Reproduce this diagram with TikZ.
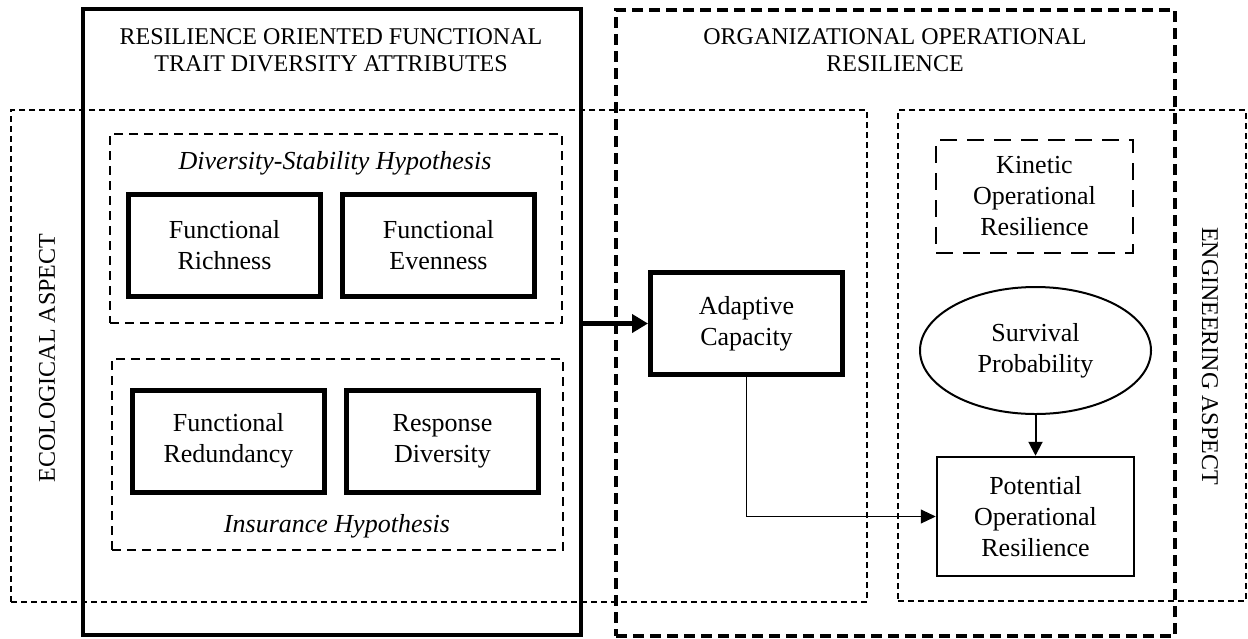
\documentclass[tikz,border=0pt]{standalone}
\usepackage{fontspec}
\setmainfont{Liberation Serif}
\usepackage{tikz}
\usetikzlibrary{arrows.meta,shapes.geometric}
\newcommand{\bodysize}{\fontsize{26}{31}\selectfont}
\newcommand{\capsize}{\fontsize{24}{27}\selectfont}

\begin{document}
\begin{tikzpicture}[x=1pt,y=-1pt,
	aspectbox/.style={draw, line width=2pt, dash pattern=on 6pt off 4pt, inner sep=0pt},
	orgbox/.style={draw, line width=3.5pt, dash pattern=on 11pt off 6pt, inner sep=0pt},
	traitbox/.style={draw, line width=4.5pt, inner sep=0pt},
	hypbox/.style={draw, line width=2pt, dash pattern=on 9pt off 6pt, inner sep=0pt},
	attr/.style={draw, line width=5pt, minimum width=192pt, minimum height=102pt, align=center, font=\bodysize},
	resbox/.style={draw, line width=2.5pt, minimum width=197pt, align=center, font=\bodysize},
	title/.style={align=center, font=\capsize},
	hyp/.style={font=\bodysize\itshape}]
	\useasboundingbox (0,0) rectangle (1248,638);

	\node[aspectbox, minimum width=856pt, minimum height=492pt] (eco) at (439,356) {};
	\node[aspectbox, minimum width=348pt, minimum height=491pt] (eng) at (1072,355.5) {};
	\node[traitbox, minimum width=498pt, minimum height=626pt] (trait) at (332,322) {};
	\node[orgbox, minimum width=559pt, minimum height=626pt] (org) at (895.5,323) {};

	\node[title] (traittitle) at (331,50) {RESILIENCE ORIENTED FUNCTIONAL\\TRAIT DIVERSITY ATTRIBUTES};
	\node[title] (orgtitle) at (895,50) {ORGANIZATIONAL OPERATIONAL\\RESILIENCE};
	\node[title, rotate=90] (ecolabel) at (47,358) {ECOLOGICAL ASPECT};
	\node[title, rotate=-90] (englabel) at (1210,356) {ENGINEERING ASPECT};

	% ecological side
	\node[hypbox, minimum width=452pt, minimum height=189pt] (dsh) at (336,228.5) {};
	\node[hyp] (dshlabel) at (335,163) {Diversity-Stability Hypothesis};
	\node[attr] (rich) at (224.5,245.5) {Functional\\Richness};
	\node[attr] (even) at (438.5,245.5) {Functional\\Evenness};

	\node[hypbox, minimum width=451pt, minimum height=191pt] (ins) at (337.5,454.5) {};
	\node[attr] (redun) at (228.5,441) {Functional\\Redundancy};
	\node[attr] (resp) at (442.5,441) {Response\\Diversity};
	\node[hyp] (inslabel) at (337,526) {Insurance Hypothesis};

	\node[attr] (adapt) at (746.5,323.5) {Adaptive\\Capacity};

	% engineering side
	\node[resbox, minimum height=113pt, dash pattern=on 17pt off 10pt] (kin) at (1034.5,196.5) {Kinetic\\Operational\\Resilience};
	\node[draw, ellipse, line width=2pt, minimum width=231pt, minimum height=127pt, inner sep=0pt, align=center, font=\bodysize] (surv) at (1035.5,350.5) {Survival\\Probability};
	\node[resbox, minimum height=119pt] (pot) at (1035.5,516.5) {Potential\\Operational\\Resilience};

	\draw[line width=5pt, -{Triangle[length=16pt,width=18pt]}] (trait.east |- adapt.west) -- (adapt.west);
	\draw[line width=1pt, -{Triangle[length=15pt,width=14pt]}] (adapt.south) |- (pot.west);
	\draw[line width=2pt, -{Triangle[length=14pt,width=14pt]}] (surv.south) -- (pot.north);

\end{tikzpicture}
\end{document}
